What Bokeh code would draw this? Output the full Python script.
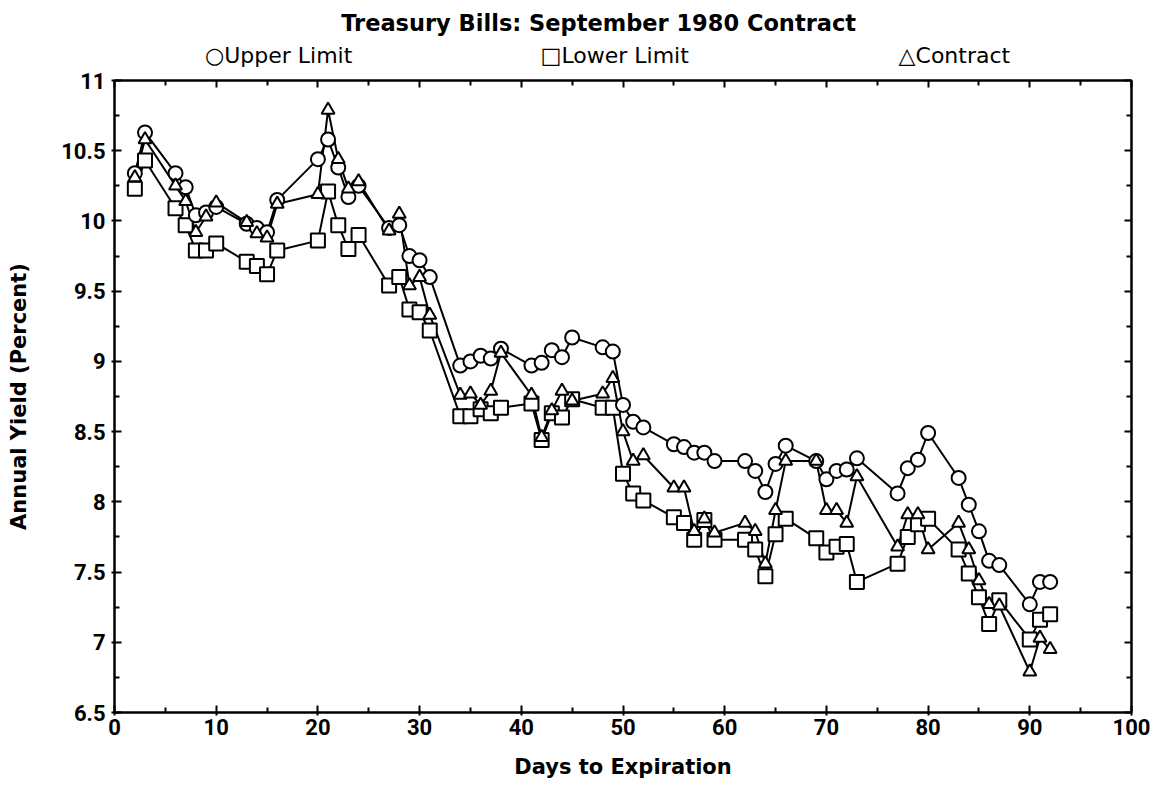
from bokeh.plotting import figure
from bokeh.layouts import column
from bokeh.models import Range1d, LinearAxis, FixedTicker, CustomJSTickFormatter
from bokeh.core.properties import value
from bokeh.embed import file_html
from bokeh.resources import INLINE

days = [2, 3, 6, 7, 8, 9, 10, 13, 14, 15, 16, 20, 21, 22, 23, 24, 27, 28, 29, 30, 31,
        34, 35, 36, 37, 38, 41, 42, 43, 44, 45, 48, 49, 50, 51, 52, 55, 56, 57, 58, 59,
        62, 63, 64, 65, 66, 69, 70, 71, 72, 73, 77, 78, 79, 80, 83, 84, 85, 86, 87, 90, 91, 92]

upper = [10.34, 10.63, 10.34, 10.24, 10.04, 10.06, 10.10, 9.98, 9.95, 9.92, 10.15,
         10.44, 10.58, 10.38, 10.17, 10.25, 9.95, 9.97, 9.75, 9.72, 9.60,
         8.97, 9.00, 9.04, 9.02, 9.09, 8.97, 8.99, 9.08, 9.03, 9.17,
         9.10, 9.07, 8.69, 8.57, 8.53, 8.41, 8.39, 8.35, 8.35, 8.29,
         8.29, 8.22, 8.07, 8.27, 8.40, 8.29, 8.16, 8.22, 8.23, 8.31,
         8.06, 8.24, 8.30, 8.49, 8.17, 7.98, 7.79, 7.58, 7.55, 7.27, 7.43, 7.43]

lower = [10.23, 10.43, 10.09, 9.97, 9.79, 9.79, 9.84, 9.71, 9.68, 9.62, 9.79,
         9.86, 10.21, 9.97, 9.80, 9.90, 9.54, 9.60, 9.37, 9.35, 9.22,
         8.61, 8.61, 8.66, 8.63, 8.67, 8.70, 8.44, 8.63, 8.60, 8.73,
         8.67, 8.67, 8.20, 8.06, 8.01, 7.89, 7.85, 7.73, 7.87, 7.73,
         7.73, 7.66, 7.47, 7.77, 7.88, 7.74, 7.64, 7.68, 7.70, 7.43,
         7.56, 7.75, 7.84, 7.88, 7.66, 7.49, 7.32, 7.13, 7.30, 7.02, 7.16, 7.20]

contract = [10.31, 10.58, 10.25, 10.14, 9.92, 10.03, 10.13, 9.99, 9.91, 9.88, 10.12,
            10.19, 10.79, 10.44, 10.23, 10.28, 9.93, 10.05, 9.54, 9.60, 9.33,
            8.76, 8.77, 8.69, 8.79, 9.06, 8.76, 8.46, 8.65, 8.79, 8.72,
            8.77, 8.88, 8.50, 8.29, 8.33, 8.10, 8.10, 7.79, 7.88, 7.78,
            7.85, 7.79, 7.56, 7.94, 8.29, 8.29, 7.94, 7.94, 7.85, 8.18,
            7.68, 7.91, 7.91, 7.66, 7.85, 7.66, 7.44, 7.27, 7.26, 6.79, 7.03, 6.95]

x_ticks = [0, 10, 20, 30, 40, 50, 60, 70, 80, 90, 100]
y_ticks = [6.5, 7, 7.5, 8, 8.5, 9, 9.5, 10, 10.5, 11]

title_text = "Treasury Bills: September 1980 Contract"
legend_texts = ["\u25cbUpper Limit", "\u25a1Lower Limit", "\u25b3Contract"]

TICK_FONT = "Roboto"
TEXT_FONT = "DejaVu Sans"

W = 1160
LEFT = 114
RIGHT = 29
HEAD_H = 68

# ---------- header with title and legend ----------
head = figure(width=W, height=HEAD_H, output_backend="svg", toolbar_location=None,
              x_range=Range1d(0, 100), y_range=Range1d(0, HEAD_H),
              x_axis_location=None, y_axis_location=None,
              min_border_left=LEFT, min_border_right=RIGHT, min_border_top=0, min_border_bottom=0)
head.grid.visible = False
head.outline_line_color = None
head.background_fill_color = "white"
head.border_fill_color = "white"

head.text(x=[47.6], y=[46], text=[title_text], text_align="center", text_baseline="middle",
          text_font=value(TEXT_FONT), text_font_style="bold", text_font_size="22.5px", text_color="black")
head.text(x=[8.9, 41.9, 77.1], y=[13, 13, 13], text=legend_texts, text_align="left",
          text_baseline="middle", text_font=value(TEXT_FONT), text_font_size="22px", text_color="black")

# ---------- main chart ----------
p = figure(width=W, height=719, output_backend="svg", toolbar_location=None,
           x_range=Range1d(0, 100), y_range=Range1d(6.5, 11),
           min_border_left=LEFT, min_border_right=RIGHT, min_border_top=12, min_border_bottom=75)
p.grid.visible = False
p.outline_line_color = "black"
p.outline_line_width = 2
p.background_fill_color = "white"
p.border_fill_color = "white"

x_minor = [v for v in range(5, 100, 10)]
y_minor = [6.75 + 0.5 * i for i in range(9)]

xa = p.xaxis[0]
xa.ticker = FixedTicker(ticks=x_ticks, minor_ticks=x_minor)
xa.axis_label = "Days to Expiration"
ya = p.yaxis[0]
ya.ticker = FixedTicker(ticks=y_ticks, minor_ticks=y_minor)
ya.formatter = CustomJSTickFormatter(code="return tick.toString();")
ya.axis_label = "Annual Yield (Percent)"

top = LinearAxis(ticker=FixedTicker(ticks=x_ticks, minor_ticks=x_minor),
                 formatter=CustomJSTickFormatter(code="return '';"))
right = LinearAxis(ticker=FixedTicker(ticks=y_ticks, minor_ticks=y_minor),
                   formatter=CustomJSTickFormatter(code="return '';"))
p.add_layout(top, "above")
p.add_layout(right, "right")

for ax in [xa, ya, top, right]:
    ax.axis_line_color = "black"
    ax.axis_line_width = 2
    ax.major_tick_line_width = 2
    ax.minor_tick_line_width = 2
    ax.major_tick_in = 7
    ax.major_tick_out = 3
    ax.minor_tick_in = 5
    ax.minor_tick_out = 0
    ax.major_label_text_font = TICK_FONT
    ax.major_label_text_font_size = "22px"
    ax.major_label_text_font_style = "bold"
    ax.major_label_text_color = "black"
    ax.axis_label_text_font = TEXT_FONT
    ax.axis_label_text_font_size = "21px"
    ax.axis_label_text_font_style = "bold"
    ax.axis_label_text_color = "black"
for ax in [top, right]:
    ax.major_tick_out = 0
    ax.major_label_text_font_size = "1px"
    ax.major_label_standoff = 0
xa.major_label_standoff = 3
xa.axis_label_standoff = 17
ya.major_label_standoff = 6
ya.axis_label_standoff = 27

for ys in [upper, lower, contract]:
    p.line(days, ys, line_color="black", line_width=2)

p.scatter(days, lower, marker="square", size=14, fill_color="white", line_color="black", line_width=2)
p.scatter(days, upper, marker="circle", size=14, fill_color="white", line_color="black", line_width=2)
p.scatter(days, contract, marker="triangle", size=13, fill_color="white", line_color="black", line_width=2)

layout = column(head, p)
open("out.html", "w").write(file_html(layout, INLINE))
